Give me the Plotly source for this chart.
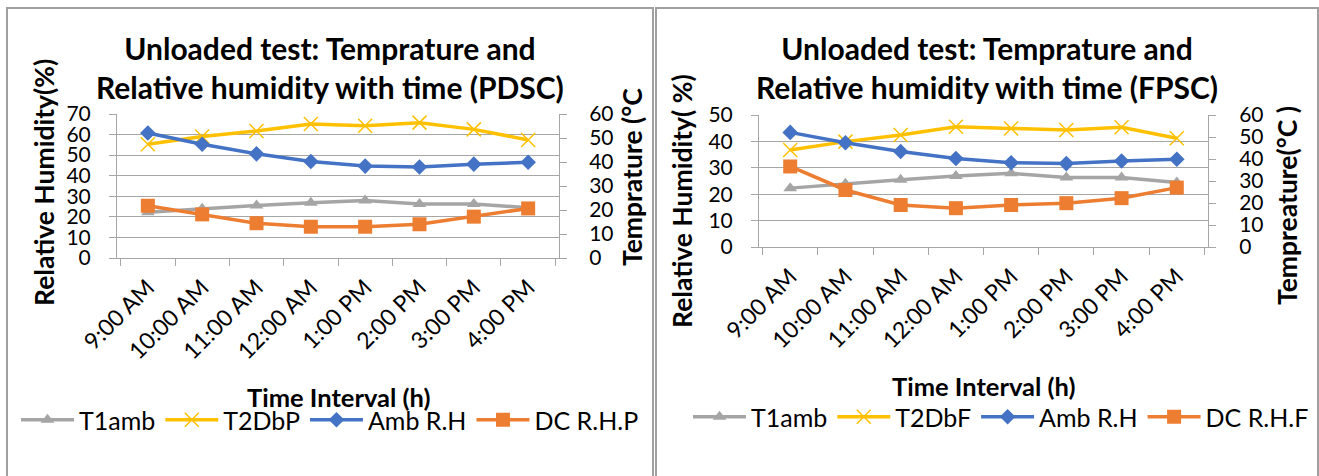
import plotly.graph_objects as go

# ---------------- data ----------------
times = ["9:00 AM", "10:00 AM", "11:00 AM", "12:00 AM", "1:00 PM", "2:00 PM", "3:00 PM", "4:00 PM"]
t1amb = [22.3, 24.0, 25.5, 26.9, 27.9, 26.3, 26.3, 24.4]
amb_rh = [52.1, 47.4, 43.4, 40.2, 38.3, 37.9, 39.1, 39.9]
t2dbp = [47.4, 50.6, 52.9, 55.8, 55.1, 56.4, 53.6, 49.2]
dc_rhp = [25.4, 21.2, 16.9, 15.2, 15.2, 16.4, 20.1, 24.1]
t2dbf = [44.1, 47.9, 50.9, 54.7, 53.9, 53.2, 54.4, 49.4]
dc_rhf = [30.5, 21.6, 15.9, 14.7, 15.9, 16.6, 18.5, 22.5]

W, H = 1319, 476
FONT = "Lato"
GRAY = "#a5a5a5"
YELLOW = "#ffc000"
BLUE = "#4472c4"
ORANGE = "#ed7d31"
GRID = "#a6a6a6"


def px(x):
    return x / W


def py(y):
    return 1 - y / H


fig = go.Figure()


def add_series(xa, ya_left, ya_right, legend, t2name, dcname, t2vals, dcvals):
    fig.add_trace(go.Scatter(x=times, y=t1amb, name="T1amb", xaxis=xa, yaxis=ya_left, legend=legend,
                             mode="lines+markers", line=dict(color=GRAY, width=3.5),
                             marker=dict(symbol="triangle-up", size=12, color=GRAY)))
    fig.add_trace(go.Scatter(x=times, y=t2vals, name=t2name, xaxis=xa, yaxis=ya_right, legend=legend,
                             mode="lines+markers", line=dict(color=YELLOW, width=3.5),
                             marker=dict(symbol="x-thin-open", size=14, color=YELLOW,
                                         line=dict(color=YELLOW, width=1.5))))
    fig.add_trace(go.Scatter(x=times, y=amb_rh, name="Amb R.H", xaxis=xa, yaxis=ya_right, legend=legend,
                             mode="lines+markers", line=dict(color=BLUE, width=3.5),
                             marker=dict(symbol="diamond", size=12, color=BLUE)))
    fig.add_trace(go.Scatter(x=times, y=dcvals, name=dcname, xaxis=xa, yaxis=ya_left, legend=legend,
                             mode="lines+markers", line=dict(color=ORANGE, width=3.5),
                             marker=dict(symbol="square", size=14, color=ORANGE)))


add_series("x", "y", "y2", "legend", "T2DbP", "DC R.H.P", t2dbp, dc_rhp)
add_series("x2", "y3", "y4", "legend2", "T2DbF", "DC R.H.F", t2dbf, dc_rhf)

ytickfont = dict(family=FONT, size=21, color="#000000")
xtickfont = dict(family=FONT, size=23, color="#000000")
xcommon = dict(type="category", tickson="boundaries", ticks="outside", ticklen=7, tickcolor=GRID,
               showline=True, linecolor=GRID, linewidth=1, tickangle=-45, tickfont=xtickfont,
               showgrid=False, zeroline=False, ticklabelstandoff=6, automargin=False)
ycommon = dict(dtick=10, ticks="outside", ticklen=7, tickcolor=GRID, showline=True, linecolor=GRID,
               linewidth=1, tickfont=ytickfont, zeroline=False, automargin=False)

fig.update_layout(
    width=W, height=H,
    margin=dict(l=0, r=0, t=0, b=0, autoexpand=False),
    paper_bgcolor="white", plot_bgcolor="white",
    font=dict(family=FONT, color="#000000"),
    xaxis=dict(domain=[px(117), px(559)], anchor="y", **xcommon),
    yaxis=dict(domain=[py(258), py(114)], anchor="x", range=[0, 70], showgrid=True, gridcolor=GRID,
               gridwidth=1, ticklabelstandoff=14, **ycommon),
    yaxis2=dict(overlaying="y", side="right", anchor="x", range=[0, 60], showgrid=False,
                ticklabelstandoff=18, **ycommon),
    xaxis2=dict(domain=[px(759), px(1208)], anchor="y3", **xcommon),
    yaxis3=dict(domain=[py(247), py(115)], anchor="x2", range=[0, 50], showgrid=True, gridcolor=GRID,
                gridwidth=1, ticklabelstandoff=14, **ycommon),
    yaxis4=dict(overlaying="y3", side="right", anchor="x2", range=[0, 60], showgrid=False,
                ticklabelstandoff=19, **ycommon),
    legend=dict(orientation="h", x=px(16), y=py(420), xanchor="left", yanchor="middle",
                font=dict(family=FONT, size=25), itemwidth=53, bgcolor="rgba(0,0,0,0)"),
    legend2=dict(orientation="h", x=px(688), y=py(417), xanchor="left", yanchor="middle",
                 font=dict(family=FONT, size=25), itemwidth=53, bgcolor="rgba(0,0,0,0)"),
    showlegend=True,
)

# panel borders
for x0, x1 in [(7, 653), (656, 1318)]:
    fig.add_shape(type="rect", xref="paper", yref="paper", x0=px(x0), x1=px(x1), y0=py(480), y1=py(8),
                  line=dict(color="#a0a0a0", width=2), fillcolor="rgba(0,0,0,0)", layer="below")

annots = [
    # chart titles
    dict(x=px(330), y=py(68), text="<b>Unloaded test: Temprature and<br>Relative humidity with time (PDSC)</b>",
         size=30, angle=0),
    dict(x=px(987), y=py(68), text="<b>Unloaded test: Temprature and<br>Relative humidity with time (FPSC)</b>",
         size=30, angle=0),
    # axis titles
    dict(x=px(338), y=py(397), text="<b>Time Interval (h)</b>", size=25.5, angle=0),
    dict(x=px(983), y=py(386), text="<b>Time Interval (h)</b>", size=25.5, angle=0),
    dict(x=px(44), y=py(183), text="<b>Relative Humidity(%)</b>", size=26.5, angle=-90),
    dict(x=px(632), y=py(177), text="<b>Temprature (°C</b>", size=26.5, angle=-90),
    dict(x=px(682), y=py(201), text="<b>Relative Humidity( %)</b>", size=26.5, angle=-90),
    dict(x=px(1287), y=py(206), text="<b>Tempreature(°C )</b>", size=26.5, angle=-90),
]
for a in annots:
    fig.add_annotation(x=a["x"], y=a["y"], xref="paper", yref="paper", text=a["text"], showarrow=False,
                       textangle=a["angle"], xanchor="center", yanchor="middle",
                       font=dict(family=FONT, size=a["size"], color="#000000"))

fig.write_html("out.html")
